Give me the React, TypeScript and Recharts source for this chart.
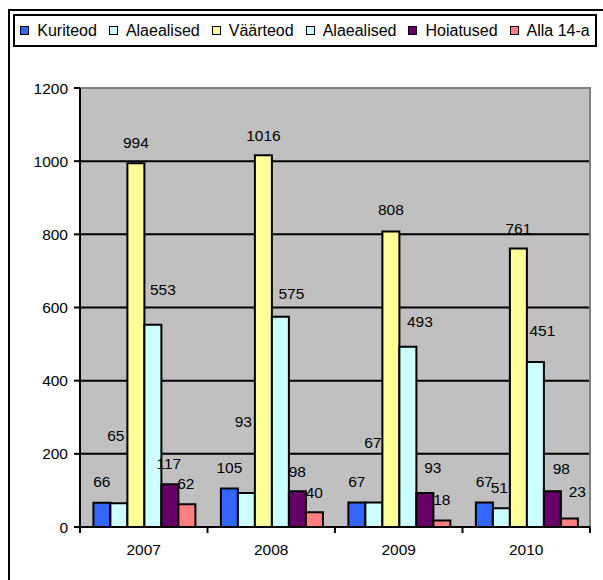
import React from 'react';
import { BarChart, Bar, XAxis, YAxis, CartesianGrid, ReferenceArea, LabelList } from 'recharts';

const years = ['2007', '2008', '2009', '2010'];
const kuriteod = [66, 105, 67, 67];
const alaealised1 = [65, 93, 67, 51];
const vaarteod = [994, 1016, 808, 761];
const alaealised2 = [553, 575, 493, 451];
const hoiatused = [117, 98, 93, 98];
const alla14 = [62, 40, 18, 23];
const seriesNames = ['Kuriteod', 'Alaealised', 'Väärteod', 'Alaealised', 'Hoiatused', 'Alla 14-a'];
const yTicks = [0, 200, 400, 600, 800, 1000, 1200];

const seriesValues = [kuriteod, alaealised1, vaarteod, alaealised2, hoiatused, alla14];
const colors = ['#3366FF', '#CCFFFF', '#FFFF99', '#CCFFFF', '#660066', '#FF8080'];

// label placement tweaks (dx, lift above bar top) mimicking the original layout
const labelNudge: [number, number][][] = [
  [[0, 21], [0, 21], [0, 21], [0, 21]],
  [[-3, 68], [-3, 71], [-1, 60], [-2, 21]],
  [[0, 21], [0, 20], [0, 22], [0, 20]],
  [[10, 35], [11, 23], [12, 25], [7, 32]],
  [[-1, 21], [0, 20], [8, 25], [9, 23]],
  [[-1, 21], [0, 20], [0, 21], [8, 27]],
];

const FS = 15.5;

const data = years.map((year, i) => {
  const row: Record<string, string | number> = { year };
  seriesValues.forEach((vals, s) => {
    row['s' + s] = vals[i];
  });
  return row;
});

const makeLabel = (s: number) => (props: any) => {
  const { x, y, width, value, index } = props;
  const [dx, lift] = labelNudge[s][index] || [0, 21];
  return (
    <text
      x={Number(x) + Number(width) / 2 + dx}
      y={Number(y) - lift + 5.5}
      textAnchor="middle"
      fontSize={FS}
      fill="#000"
    >
      {value}
    </text>
  );
};

const XTick = (props: any) => {
  const { x, y, payload, index, visibleTicksCount } = props;
  const off = payload && typeof payload.offset === 'number' ? payload.offset : 0;
  const axisY = Number(y) - 8;
  const last = index === (visibleTicksCount ?? years.length) - 1;
  return (
    <g>
      <line x1={x - off} x2={x - off} y1={axisY} y2={axisY + 6} stroke="#000" strokeWidth={2} />
      {last && <line x1={x + off} x2={x + off} y1={axisY} y2={axisY + 6} stroke="#000" strokeWidth={2} />}
      <text x={x} y={axisY + 28} textAnchor="middle" fontSize={FS} fill="#000">
        {payload.value}
      </text>
    </g>
  );
};

const Legend = () => (
  <div
    style={{
      position: 'absolute',
      left: 13,
      top: 14,
      width: 580,
      height: 29,
      border: '2px solid #000',
      display: 'flex',
      alignItems: 'center',
      justifyContent: 'center',
      fontSize: 16,
      color: '#000',
      whiteSpace: 'nowrap',
    }}
  >
    {seriesNames.map((name, i) => (
      <div key={i} style={{ display: 'flex', alignItems: 'center', marginLeft: i === 0 ? 0 : 12 }}>
        <span
          style={{
            display: 'inline-block',
            width: 7,
            height: 7,
            background: colors[i],
            border: '1px solid #000',
            marginRight: 8,
          }}
        />
        <span>{name}</span>
      </div>
    ))}
  </div>
);

export default function App() {
  return (
    <div
      style={{
        position: 'absolute',
        left: 0,
        top: 0,
        width: 603,
        height: 580,
        overflow: 'hidden',
        background: '#fff',
        fontFamily: 'Arial, "Liberation Sans", sans-serif',
      }}
    >
      <div
        style={{
          position: 'absolute',
          left: 8,
          top: 9,
          width: 640,
          height: 640,
          borderLeft: '2px solid #000',
          borderTop: '2px solid #000',
        }}
      />
      <Legend />
      <div style={{ position: 'absolute', left: 0, top: 0 }}>
        <BarChart
          width={603}
          height={580}
          data={data}
          margin={{ top: 88, right: 13, left: 20, bottom: 23 }}
          barCategoryGap="10.5%"
          barGap={0}
        >
          <CartesianGrid vertical={false} fill="#C0C0C0" stroke="#000" strokeWidth={2} />
          <ReferenceArea y1={0} y2={1200} fill="none" stroke="#808080" strokeWidth={2} />
          {seriesValues.map((_, s) => (
            <Bar
              key={s}
              dataKey={'s' + s}
              name={seriesNames[s]}
              fill={colors[s]}
              stroke="#000"
              strokeWidth={2}
              isAnimationActive={false}
            >
              <LabelList dataKey={'s' + s} content={makeLabel(s)} />
            </Bar>
          ))}
          <XAxis
            dataKey="year"
            interval={0}
            height={30}
            axisLine={{ stroke: '#000', strokeWidth: 2 }}
            tickLine={{ stroke: 'none' }}
            tickSize={6}
            tickMargin={2}
            tick={<XTick />}
          />
          <YAxis
            width={60}
            domain={[0, 1200]}
            ticks={yTicks}
            interval={0}
            axisLine={{ stroke: '#000', strokeWidth: 2 }}
            tickLine={{ stroke: '#000', strokeWidth: 2 }}
            tickSize={6}
            tickMargin={6}
            tick={{ fill: '#000', fontSize: FS }}
          />
        </BarChart>
      </div>
    </div>
  );
}
